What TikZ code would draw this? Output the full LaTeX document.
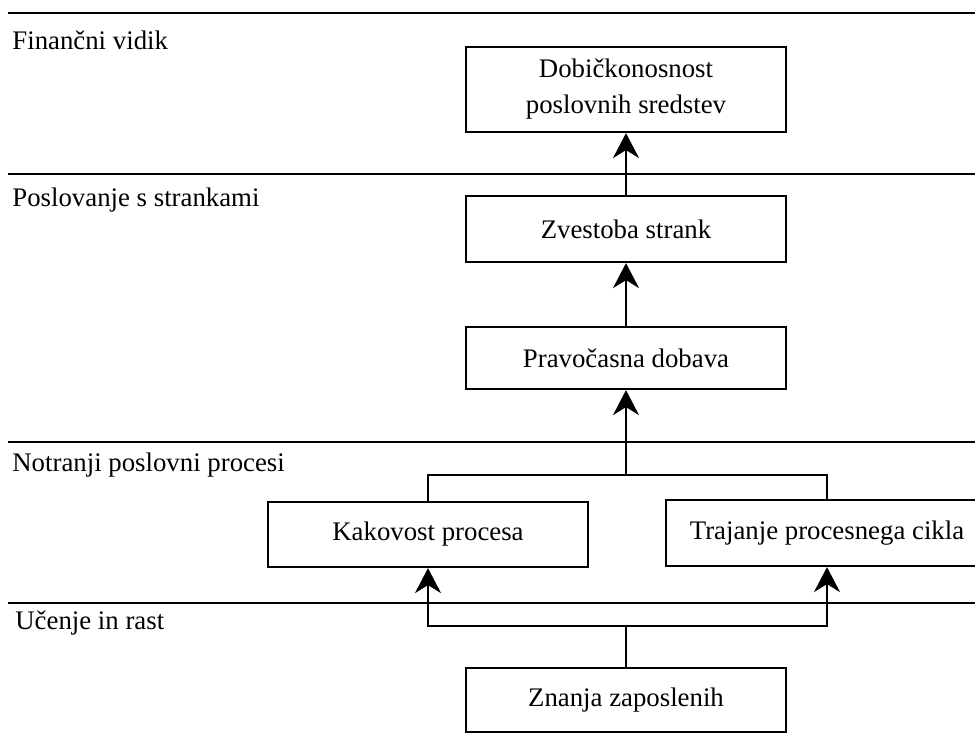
\documentclass[tikz,border=0pt]{standalone}
\usepackage{fontspec}
\setmainfont{Liberation Serif}
\usetikzlibrary{arrows.meta}
\begin{document}
\begin{tikzpicture}[x=0.5pt,y=-0.5pt,
  every node/.style={font=\fontsize{13.4}{18}\selectfont},
  box/.style={draw,line width=1.1pt,inner sep=0pt,minimum width=160pt,align=center},
  sep/.style={line width=1.3pt},
  conn/.style={line width=1.1pt},
  arr/.style={conn,-{Stealth[length=12.5pt,width=13pt,inset=4pt]}},
  lbl/.style={anchor=base west,inner sep=0pt}]
\useasboundingbox (0,0) rectangle (975,747);
% separators
\draw[sep] (8,13) -- (975,13);
\draw[sep] (8,174) -- (975,174);
\draw[sep] (8,442) -- (975,442);
\draw[sep] (8,603) -- (975,603);
% labels
\node[lbl] (l1) at (12,50) {Finančni vidik};
\node[lbl] (l2) at (12,207) {Poslovanje s strankami};
\node[lbl] (l3) at (12,472) {Notranji poslovni procesi};
\node[lbl] (l4) at (15,630) {Učenje in rast};
% boxes
\node[box,minimum height=42.5pt] (dob) at (626,89.5) {Dobičkonosnost\\poslovnih sredstev};
\node[box,minimum height=33pt] (zve) at (626,229) {Zvestoba strank};
\node[box,minimum height=31pt] (pra) at (626,358) {Pravočasna dobava};
\node[box,minimum height=32.5pt] (kak) at (428,534.5) {Kakovost procesa};
\node[box,minimum width=161pt,minimum height=33pt] (tra) at (827,533) {Trajanje procesnega cikla};
\node[box,minimum height=32pt] (zna) at (626,700) {Znanja zaposlenih};
% junctions
\coordinate (topj) at (626,475);
\coordinate (botj) at (626,626);
% connectors
\draw[arr] (zve.north) -- (dob.south);
\draw[arr] (pra.north) -- (zve.south);
\draw[conn] (kak.north) |- (topj) -| (tra.north);
\draw[arr] (topj) -- (pra.south);
\draw[conn] (zna.north) -- (botj);
\draw[arr] (botj) -| (kak.south);
\draw[arr] (botj) -| (tra.south);
\end{tikzpicture}
\end{document}
